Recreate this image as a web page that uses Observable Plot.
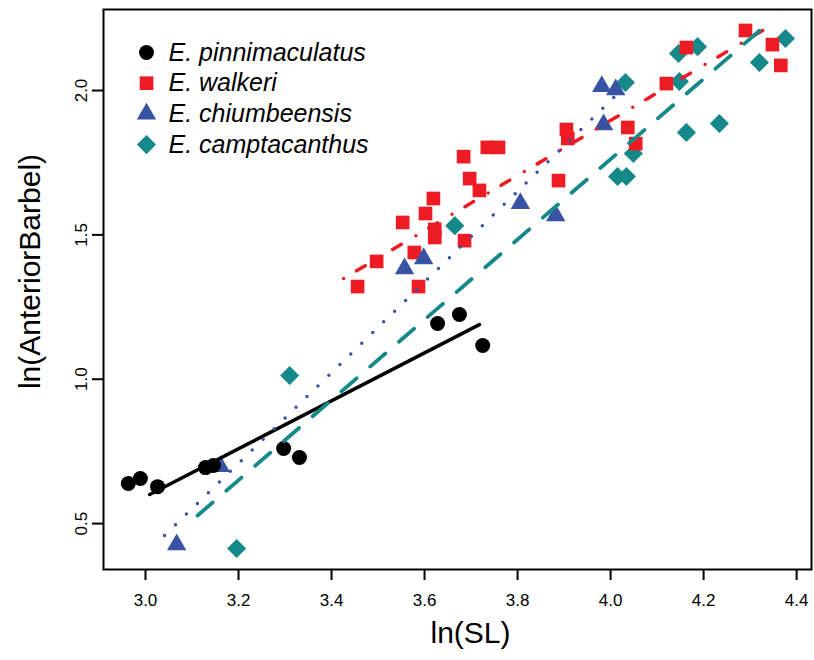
<!DOCTYPE html>
<html>
<head>
<meta charset="utf-8">
<script src="https://cdn.jsdelivr.net/npm/d3@7"></script>
<script src="https://cdn.jsdelivr.net/npm/@observablehq/plot@0.6"></script>
<style>
  html, body { margin: 0; padding: 0; background: white; }
</style>
</head>
<body>
<div id="chart"></div>
<script>
// ---- data ----
const species = ["E. pinnimaculatus", "E. walkeri", "E. chiumbeensis", "E. camptacanthus"];
const colors = ["#000000", "#ed1c24", "#3953a4", "#15898a"];
const symbols = ["circle", "square", "triangle", "diamond2"];

const pinX = [2.963, 2.989, 3.026, 3.129, 3.146, 3.297, 3.331, 3.628, 3.675, 3.725];
const pinY = [0.639, 0.656, 0.628, 0.694, 0.701, 0.760, 0.729, 1.193, 1.224, 1.117];

const walX = [3.456, 3.497, 3.553, 3.578, 3.587, 3.602, 3.619, 3.622, 3.622, 3.686, 3.684, 3.697, 3.718, 3.735, 3.759, 3.888, 3.905, 3.908, 4.037, 4.054, 4.120, 4.163, 4.290, 4.348, 4.366];
const walY = [1.321, 1.408, 1.543, 1.439, 1.321, 1.574, 1.626, 1.519, 1.491, 1.480, 1.771, 1.695, 1.654, 1.803, 1.803, 1.688, 1.865, 1.834, 1.872, 1.816, 2.024, 2.149, 2.208, 2.159, 2.087];

const chiX = [3.067, 3.161, 3.557, 3.598, 3.806, 3.882, 3.981, 4.011, 3.985];
const chiY = [0.427, 0.698, 1.383, 1.418, 1.609, 1.567, 2.014, 2.003, 1.882];

const camX = [3.196, 3.310, 3.665, 4.015, 4.034, 4.049, 4.032, 4.146, 4.187, 4.148, 4.163, 4.234, 4.320, 4.376];
const camY = [0.414, 1.013, 1.532, 1.702, 1.702, 1.782, 2.028, 2.128, 2.152, 2.031, 1.855, 1.886, 2.097, 2.180];

// regression line end points (same order as species)
const fitX1 = [3.009, 3.426, 3.041, 3.112];
const fitY1 = [0.601, 1.349, 0.459, 0.528];
const fitX2 = [3.718, 4.327, 4.009, 4.333];
const fitY2 = [1.189, 2.208, 1.979, 2.225];

const xTicks = [3.0, 3.2, 3.4, 3.6, 3.8, 4.0, 4.2, 4.4];
const yTicks = [0.5, 1.0, 1.5, 2.0];
const xLabel = "ln(SL)";
const yLabel = "ln(AnteriorBarbel)";

// ---- build tables ----
const pts = (xs, ys, i) => xs.map((x, k) => ({x, y: ys[k], sp: species[i]}));
const series = [pts(pinX, pinY, 0), pts(walX, walY, 1), pts(chiX, chiY, 2), pts(camX, camY, 3)];
const fits = species.map((s, i) => [{x: fitX1[i], y: fitY1[i]}, {x: fitX2[i], y: fitY2[i]}]);

const dotR = [7.5, 7.7, 7.2, 8.6];
const lineStyles = [
  {strokeWidth: 3.5},
  {strokeWidth: 3.5, strokeDasharray: "0,15,10,17"},
  {strokeWidth: 3.5, strokeDasharray: "0,15.3"},
  {strokeWidth: 3.8, strokeDasharray: "20,18"}
];

const pointOrder = [3, 1, 2, 0];
const font = "'Liberation Sans', Arial, Helvetica, sans-serif";

const marks = [];
marks.push(Plot.frame({stroke: "black", strokeWidth: 2}));
for (const i of pointOrder) {
  marks.push(Plot.dot(series[i], {x: "x", y: "y", r: dotR[i], symbol: () => symbols[i], fill: colors[i], stroke: "none"}));
}
for (let i = 0; i < species.length; i++) {
  marks.push(Plot.line(fits[i], {x: "x", y: "y", stroke: colors[i], strokeLinecap: "round", ...lineStyles[i]}));
}
// legend
species.forEach((s, i) => {
  marks.push(Plot.dot([s], {frameAnchor: "top-left", dx: 43, dy: 43 + i * 30.7, r: dotR[i], symbol: () => symbols[i], fill: colors[i], stroke: "none"}));
  marks.push(Plot.text([s], {frameAnchor: "top-left", lineAnchor: "middle", dx: 65, dy: 43 + i * 30.7, text: d => d, textAnchor: "start", fontSize: 25, fontStyle: "italic", fill: "black"}));
});
// axes
marks.push(Plot.axisX(xTicks, {tickSize: 11, tickPadding: 13, tickFormat: d3.format(".1f"), fontSize: 17, strokeWidth: 2, label: null}));
marks.push(Plot.axisY(yTicks, {tickSize: 11, tickPadding: 6, tickRotate: -90, tickFormat: d3.format(".1f"), fontSize: 17, strokeWidth: 2, label: null}));
// titles
marks.push(Plot.text([xLabel], {frameAnchor: "bottom", lineAnchor: "middle", textAnchor: "middle", dy: 64, dx: 13, text: d => d, fontSize: 30, fill: "black"}));
marks.push(Plot.text([yLabel], {frameAnchor: "left", lineAnchor: "middle", textAnchor: "middle", dx: -73, dy: -18, rotate: -90, text: d => d, fontSize: 30, fill: "black"}));

const chart = Plot.plot({
  width: 814,
  height: 660,
  marginLeft: 103,
  marginRight: 3,
  marginTop: 9,
  marginBottom: 91,
  style: {fontFamily: font, background: "white", overflow: "visible", color: "black"},
  x: {domain: [2.9097, 4.432]},
  y: {domain: [0.341, 2.2806]},
  marks
});
document.getElementById("chart").appendChild(chart);
</script>
</body>
</html>
